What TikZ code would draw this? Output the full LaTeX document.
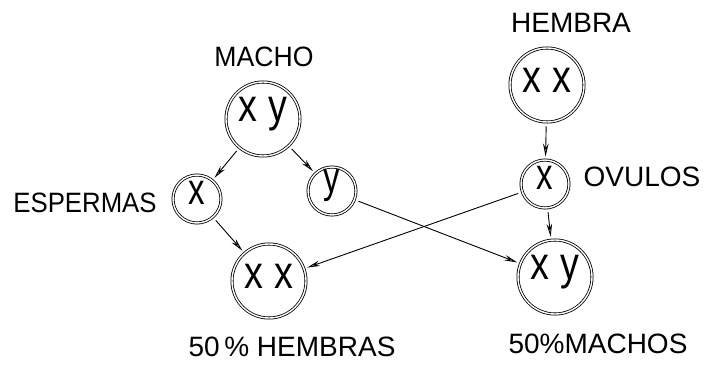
\documentclass[tikz,border=0pt]{standalone}
\usepackage{fontspec}
\setmainfont{Liberation Sans}
\usetikzlibrary{arrows.meta}
\begin{document}
\begin{tikzpicture}[x=1pt,y=-1pt,
  cell/.style={circle,draw=black,double,double distance=1.4pt,line width=0.8pt,inner sep=0pt},
  big/.style={cell,minimum size=74pt},
  small/.style={cell,minimum size=48pt},
  lbl/.style={font=\fontsize{28}{28}\selectfont},
  gl/.style={font=\fontsize{46}{46}\selectfont},
  gs/.style={font=\fontsize{44}{44}\selectfont},
  arr/.style={line width=0.9pt,shorten <=4pt,shorten >=3pt,-{Stealth[length=13pt,width=5.5pt,fill=gray!50]}}]
\useasboundingbox (0,0) rectangle (709,366);
\node[big] (macho) at (263,119) {};
\node[gl,xscale=0.82] at (263,114) {x y};
\node[lbl,xscale=0.95] (lmacho) at (264,57) {MACHO};
\node[small] (sx) at (197,199) {};
\node[gs,xscale=0.75] at (197,193) {x};
\node[small] (sy) at (332,191) {};
\node[gs,xscale=0.75] at (332,185) {y};
\node[lbl,xscale=0.92] (lesp) at (85,203) {ESPERMAS};
\node[big] (fem) at (269,281) {};
\node[gl,xscale=0.82] at (269,276) {x x};
\node[lbl] (lfem) at (292,347) {50\,\% HEMBRAS};
\node[lbl] (lhembra) at (571,23) {HEMBRA};
\node[big] (hembra) at (547,85) {};
\node[gl,xscale=0.82] at (547,80) {x x};
\node[small] (ov) at (545,184) {};
\node[gs,xscale=0.75] at (545,178) {x};
\node[lbl] (lov) at (642,177) {OVULOS};
\node[big] (male) at (555,277) {};
\node[gl,xscale=0.82] at (555,272) {x y};
\node[lbl] (lmale) at (598,344) {50\%MACHOS};
\draw[arr] (macho) -- (sx);
\draw[arr] (macho) -- (sy);
\draw[arr] (sx) -- (fem);
\draw[arr] (sy) -- (male);
\draw[arr] (ov) -- (fem);
\draw[arr] (hembra) -- (ov);
\draw[arr] (ov) -- (male);
\end{tikzpicture}
\end{document}
